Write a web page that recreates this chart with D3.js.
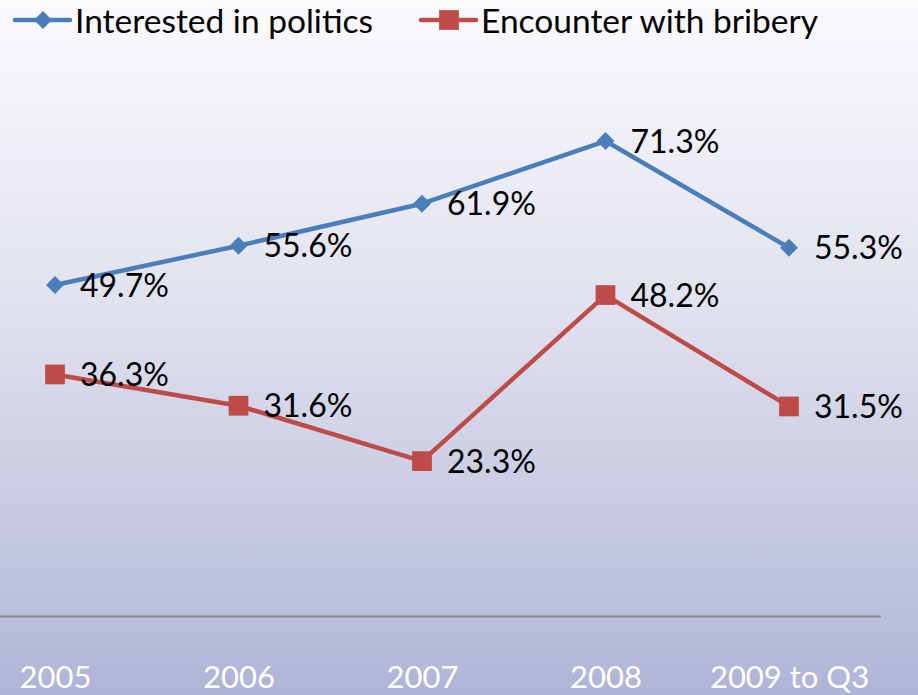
<!DOCTYPE html>
<html><head><meta charset="utf-8">
<script src="https://cdn.jsdelivr.net/npm/d3@7"></script>
<style>html,body{margin:0;padding:0;overflow:hidden;background:#fff}</style>
</head><body>
<svg id="chart" width="918" height="695"></svg>
<script>
const categories = ["2005", "2006", "2007", "2008", "2009 to Q3"];
const seriesNames = ["Interested in politics", "Encounter with bribery"];
const politics = [49.7, 55.6, 61.9, 71.3, 55.3];
const bribery = [36.3, 31.6, 23.3, 48.2, 31.5];
const colors = ["#4a7ebb", "#be4b48"];

const W = 918, H = 695;
const FONT = "Lato, 'Noto Sans', sans-serif";
const svg = d3.select("#chart");

const defs = svg.append("defs");
const grad = defs.append("linearGradient").attr("id", "bg").attr("x1", 0).attr("y1", 0).attr("x2", 0).attr("y2", 1);
grad.append("stop").attr("offset", "0%").attr("stop-color", "#fbfafd");
grad.append("stop").attr("offset", "45%").attr("stop-color", "#dfe1ee");
grad.append("stop").attr("offset", "88%").attr("stop-color", "#bcbfdc");
grad.append("stop").attr("offset", "100%").attr("stop-color", "#b0b4d5");
svg.append("rect").attr("width", W).attr("height", H).attr("fill", "url(#bg)");

const x = d3.scalePoint().domain(categories).range([55, 789]);
const y = d3.scaleLinear().domain([0, 80]).range([616.5, 83]);

// x axis
const xAxis = svg.append("g").attr("transform", "translate(0,616.5)")
  .call(d3.axisBottom(x).tickSize(0).tickPadding(0));
xAxis.select(".domain").remove();
svg.append("line").attr("x1", 0).attr("x2", 881).attr("y1", 616.5).attr("y2", 616.5)
  .attr("stroke", "#878787").attr("stroke-width", 2);
xAxis.selectAll(".tick text")
  .attr("y", 71).attr("dy", 0)
  .attr("fill", "#ffffff").attr("font-family", FONT).attr("font-size", 31);

const data = [politics, bribery];
const line = d3.line().x((d, i) => x(categories[i])).y(d => y(d));
const markerPath = si => d3.symbol().type(d3.symbolSquare).size(si === 0 ? 160 : 390)();
const markerRot = si => si === 0 ? " rotate(45)" : "";

data.forEach((vals, si) => {
  const g = svg.append("g");
  g.append("path").attr("d", line(vals)).attr("fill", "none")
    .attr("stroke", colors[si]).attr("stroke-width", 4.5).attr("stroke-linejoin", "round");
  g.selectAll("path.m").data(vals).join("path").attr("class", "m")
    .attr("d", markerPath(si))
    .attr("transform", (d, i) => `translate(${x(categories[i])},${y(d)})${markerRot(si)}`)
    .attr("fill", colors[si]);
  g.selectAll("text").data(vals).join("text")
    .attr("x", (d, i) => x(categories[i]) + 25)
    .attr("y", d => y(d))
    .attr("dy", "0.36em")
    .attr("font-family", FONT).attr("font-size", 32).attr("fill", "#000")
    .text(d => d.toFixed(1) + "%");
});

// legend
const legend = [{x: 15, tx: 75}, {x: 421, tx: 481}];
seriesNames.forEach((name, si) => {
  const lg = svg.append("g");
  const lx = legend[si].x;
  lg.append("line").attr("x1", lx).attr("x2", lx + 55).attr("y1", 20).attr("y2", 20)
    .attr("stroke", colors[si]).attr("stroke-width", 4.5).attr("stroke-linecap", "round");
  lg.append("path")
    .attr("d", markerPath(si))
    .attr("transform", `translate(${lx + 28},20)${markerRot(si)}`).attr("fill", colors[si]);
  lg.append("text").attr("x", legend[si].tx).attr("y", 33)
    .attr("font-family", FONT).attr("font-size", 33.5).attr("fill", "#000").text(name);
});
</script>
</body></html>
